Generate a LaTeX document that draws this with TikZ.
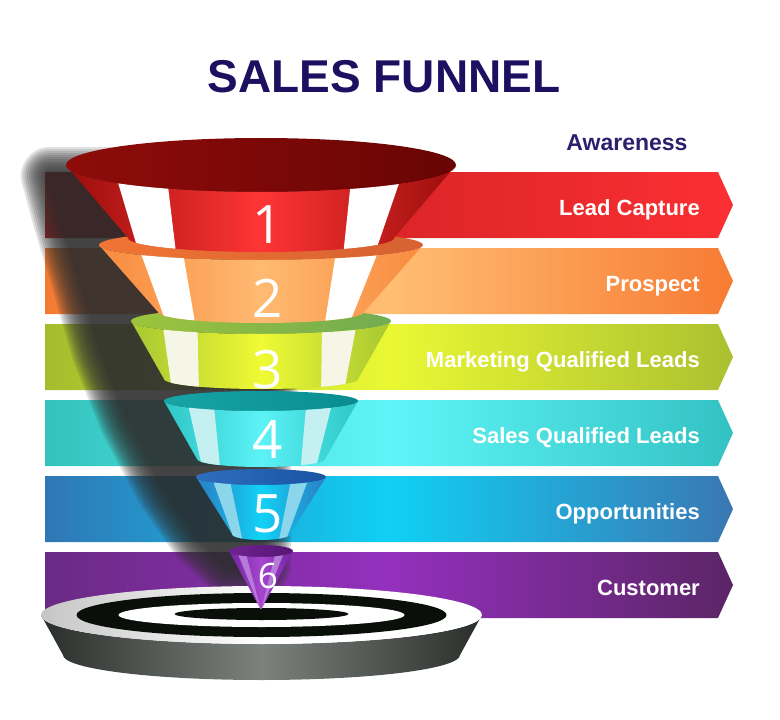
\documentclass[tikz,border=0pt]{standalone}
\usepackage{fontspec}
\setmainfont{Liberation Sans}
\newfontfamily\digitfont{Open Sans}

\definecolor{titlenavy}{HTML}{1D1060}
\definecolor{awarenavy}{HTML}{2B1F6E}
\definecolor{band1l}{HTML}{B81C1E}\definecolor{band1m}{HTML}{DC2527}\definecolor{band1r}{HTML}{FA2F33}
\definecolor{band2l}{HTML}{F47A32}\definecolor{band2m}{HTML}{FFBE74}\definecolor{band2r}{HTML}{F77B33}
\definecolor{band3l}{HTML}{A5BC2E}\definecolor{band3m}{HTML}{EAF833}\definecolor{band3r}{HTML}{ABC031}
\definecolor{band4l}{HTML}{33C3BD}\definecolor{band4m}{HTML}{5FF5F8}\definecolor{band4r}{HTML}{33C2C4}
\definecolor{band5l}{HTML}{2F77B5}\definecolor{band5m}{HTML}{10D0F4}\definecolor{band5r}{HTML}{3A77B3}
\definecolor{band6l}{HTML}{6A2A84}\definecolor{band6m}{HTML}{9430BE}\definecolor{band6r}{HTML}{5B2566}
\definecolor{rim1l}{HTML}{8E0C0A}\definecolor{rim1r}{HTML}{680504}
\definecolor{rim2l}{HTML}{F07434}\definecolor{rim2r}{HTML}{D66232}
\definecolor{rim3l}{HTML}{9CC43C}\definecolor{rim3r}{HTML}{72AC52}
\definecolor{rim4l}{HTML}{16A4A6}\definecolor{rim4r}{HTML}{0A8C90}
\definecolor{rim5l}{HTML}{2E6EBE}\definecolor{rim5r}{HTML}{1A54A4}
\definecolor{rim6l}{HTML}{6E2292}\definecolor{rim6r}{HTML}{561674}
\definecolor{body1e}{HTML}{9A0E0C}\definecolor{body1m}{HTML}{FF3535}
\definecolor{body2e}{HTML}{F88A3E}\definecolor{body2m}{HTML}{FFBA72}
\definecolor{body3e}{HTML}{A6C632}\definecolor{body3m}{HTML}{F0FA34}
\definecolor{body4e}{HTML}{2EC6C6}\definecolor{body4m}{HTML}{5CF2F6}
\definecolor{body5e}{HTML}{2A7CC4}\definecolor{body5m}{HTML}{12D2F6}
\definecolor{body6e}{HTML}{7222A2}\definecolor{body6m}{HTML}{A646CE}
\definecolor{stripe1}{HTML}{FFFFFF}\definecolor{stripe2}{HTML}{FFFFFF}
\definecolor{stripe3}{HTML}{F6F6E6}\definecolor{stripe4}{HTML}{C4F0F2}
\definecolor{stripe5}{HTML}{8CD6EC}\definecolor{stripe6}{HTML}{B67AD8}
\definecolor{shadowgray}{HTML}{2E2E2E}
\definecolor{targetdark}{HTML}{2A2E2A}
\definecolor{targetmid}{HTML}{7E827E}
\definecolor{ringblack}{HTML}{0A0F0A}

\begin{document}
\begin{tikzpicture}[x=1pt,y=1pt,yscale=-1,
        bandlabel/.style={anchor=base east, inner sep=0pt, text=white, font=\fontsize{22}{26}\selectfont\bfseries},
        stagenum/.style={anchor=base, inner sep=0pt, text=white}]
        \useasboundingbox (0,0) rectangle (780,720);

        \foreach \i/\lc/\mc/\rc/\txt in {1/band1l/band1m/band1r/Lead Capture, 2/band2l/band2m/band2r/Prospect, 3/band3l/band3m/band3r/Marketing Qualified Leads, 4/band4l/band4m/band4r/Sales Qualified Leads, 5/band5l/band5m/band5r/Opportunities, 6/band6l/band6m/band6r/Customer} {
            \pgfmathsetmacro\yt{172+76*(\i-1)}
            \shade[left color=\lc, right color=\rc, middle color=\mc] (45,\yt) -- (718,\yt) -- (733,\yt+33) -- (718,\yt+66) -- (45,\yt+66) -- cycle;
            \node[bandlabel] (label\i) at (700,\yt+43) {\txt};
        }

        \foreach \w in {2,6,...,58} {
            \begin{scope}[transparency group, opacity=0.14]
                \filldraw[shadowgray, line width=\w pt, line join=round] (50,176) -- (282,176) -- (272,330) -- (262,470) -- (262,566) -- (228,566) -- (200,540) -- (165,490) -- (128,420) -- (100,350) -- (80,280) -- (62,220) -- cycle;
            \end{scope}
        }

        \shade[left color=targetdark, right color=targetdark, middle color=targetmid] (41,615) -- (63,655) arc[start angle=180, end angle=0, x radius=198.5pt, y radius=25pt] -- (482,615) arc[start angle=0, end angle=180, x radius=220.5pt, y radius=29pt] -- cycle;
        \shade[left color=gray!45, right color=white, middle color=white] (261.5,615) ellipse[x radius=220.5pt, y radius=29pt];
        \fill[ringblack] (261.5,615) ellipse[x radius=185pt, y radius=22pt];
        \fill[white] (261.5,615) ellipse[x radius=143pt, y radius=12pt];
        \fill[ringblack] (261.5,614) ellipse[x radius=87pt, y radius=6pt];

        \foreach \n/\yt/\rt/\ryt/\yb/\rb/\ryb/\ny/\fs in {6/551/32/6/609/0.5/0.3/588/35, 5/477/65/8/534/29/6/532/53, 4/401/97/10/459/64/8/458/53, 3/321/130/13/379/97/10/388/53, 2/245/162/15/312/103/11/317/53, 1/165/195/27/238/133/14/243/53} {
            \shade[left color=rim\n l, right color=rim\n r] (261,\yt) ellipse[x radius=\rt pt, y radius=\ryt pt];
            \begin{scope}
                \clip (261-\rt,\yt) -- (261-\rb,\yb) arc[start angle=180, end angle=0, x radius=\rb pt, y radius=\ryb pt] -- (261+\rt,\yt) arc[start angle=0, end angle=180, x radius=\rt pt, y radius=\ryt pt] -- cycle;
                \shade[left color=body\n e, right color=body\n e, middle color=body\n m] (261-\rt,\yt-\ryt) rectangle (261+\rt,\yb+\ryb);
                \fill[stripe\n] (261-0.76*\rt,\yt) -- (261-0.49*\rt,\yt) -- (261-0.64*\rb,\yb+\ryb) -- (261-0.92*\rb,\yb+\ryb) -- cycle;
                \fill[stripe\n] (261+0.47*\rt,\yt) -- (261+0.74*\rt,\yt) -- (261+0.86*\rb,\yb+\ryb) -- (261+0.62*\rb,\yb+\ryb) -- cycle;
            \end{scope}
            \node[stagenum, font=\digitfont\fontsize{\fs}{\fs}\selectfont] (num\n) at (268,\ny) {\n};
        }

        \node[anchor=base, inner sep=0pt, text=titlenavy, font=\fontsize{46}{50}\selectfont\bfseries] (title) at (384,92) {SALES FUNNEL};
        \node[anchor=base, inner sep=0pt, text=awarenavy, font=\fontsize{23}{27}\selectfont\bfseries] (awareness) at (627,150) {Awareness};
    \end{tikzpicture}
\end{document}
